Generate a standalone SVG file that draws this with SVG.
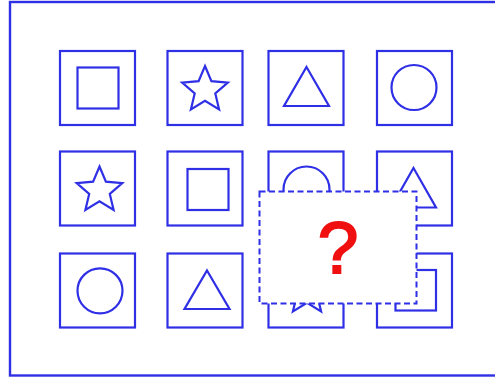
<svg xmlns="http://www.w3.org/2000/svg" width="495" height="379" viewBox="0 0 495 379">
<defs>
<style>
.s{fill:none;stroke:#2f2fe6;stroke-width:2.2;stroke-linejoin:miter}
.cell{fill:none;stroke:#2f2fe6;stroke-width:2.2}
.frame{fill:none;stroke:#2f2fe6;stroke-width:2.4}
.mask{fill:#ffffff;stroke:#2f2fe6;stroke-width:2;stroke-dasharray:6 3.5}
.q{font-family:"Liberation Sans",Arial,sans-serif;font-size:73px;fill:#f01010;stroke:#f01010;stroke-width:2;text-anchor:middle}
</style>
<path id="star" d="M0,-24 L6.4,-8.8 L22.8,-7.4 L10.3,3.4 L14.1,19.4 L0,10.8 L-14.1,19.4 L-10.3,3.4 L-22.8,-7.4 L-6.4,-8.8 Z"/>
</defs>
<rect class="frame" x="10" y="2" width="500" height="373.5"/>
<g id="c11"><rect class="cell" x="60" y="51" width="75" height="74"/><rect class="s" x="77.5" y="67.5" width="41" height="41"/></g>
<g id="c12"><rect class="cell" x="167.5" y="51" width="75" height="74"/><use href="#star" class="s" x="205" y="90"/></g>
<g id="c13"><rect class="cell" x="268.5" y="51" width="75" height="74"/><polygon class="s" points="306.5,67 329,106 284,106"/></g>
<g id="c14"><rect class="cell" x="377" y="51" width="75" height="74"/><circle class="s" cx="414" cy="87.5" r="22.5"/></g>
<g id="c21"><rect class="cell" x="60" y="151.5" width="75" height="74"/><use href="#star" class="s" x="99.5" y="190.5"/></g>
<g id="c22"><rect class="cell" x="167.5" y="151.5" width="75" height="74"/><rect class="s" x="187.5" y="169" width="41" height="41"/></g>
<g id="c23"><rect class="cell" x="268.5" y="151.5" width="75" height="74"/><circle class="s" cx="306.5" cy="189.5" r="23"/></g>
<g id="c24"><rect class="cell" x="377" y="151.5" width="75" height="74"/><polygon class="s" points="413.5,168 436,207.5 391,207.5"/></g>
<g id="c31"><rect class="cell" x="60" y="253.5" width="75" height="74"/><circle class="s" cx="100" cy="290.8" r="22.5"/></g>
<g id="c32"><rect class="cell" x="167.5" y="253.5" width="75" height="74"/><polygon class="s" points="207,270.5 229.5,309 184.5,309"/></g>
<g id="c33"><rect class="cell" x="268.5" y="253.5" width="75" height="74"/><use href="#star" class="s" x="307" y="292"/></g>
<g id="c34"><rect class="cell" x="377" y="253.5" width="75" height="74"/><rect class="s" x="395.5" y="270" width="40.5" height="40.5"/></g>
<g id="unknown"><rect class="mask" x="259.5" y="191.5" width="157" height="112"/><text class="q" x="338" y="273">?</text></g>
</svg>
